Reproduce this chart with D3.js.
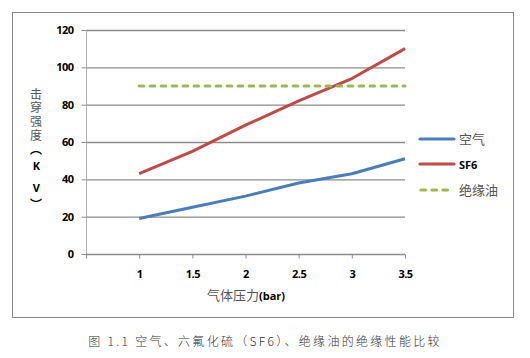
<!DOCTYPE html>
<html><head><meta charset="utf-8">
<script src="https://cdn.jsdelivr.net/npm/d3@7"></script>
<style>body{margin:0;background:#fff}</style>
</head><body><svg id="c" width="530" height="358"></svg>
<script>
const pressures = [1, 1.5, 2, 2.5, 3, 3.5];
const air = [19, 25, 31, 38, 43, 51];
const sf6 = [43, 55, 69, 82, 94, 110];
const oil = [90, 90, 90, 90, 90, 90];
const seriesNames = ["空气", "SF6", "绝缘油"];
const yTicks = [0, 20, 40, 60, 80, 100, 120];
const xTicks = [1, 1.5, 2, 2.5, 3, 3.5];
const colors = ["#4a7ebb", "#be4b48", "#98b954"];

const svg = d3.select("#c");
svg.append("rect").attr("x",12.5).attr("y",12.5).attr("width",501).attr("height",305)
  .attr("fill","#fff").attr("stroke","#888").attr("stroke-width",1);

const x = d3.scaleLinear().domain([0.5, 3.5]).range([86, 405]);
const y = d3.scaleLinear().domain([0, 120]).range([254, 30]);

// gridlines
svg.append("g").selectAll("line").data(yTicks.filter(d=>d>0)).join("line")
  .attr("x1",86).attr("x2",405).attr("y1",d=>y(d)+0.5).attr("y2",d=>y(d)+0.5)
  .attr("stroke","#8c8c8c").attr("stroke-width",1.3);

// y axis
const ya = svg.append("g").attr("transform","translate(86.5,0)")
  .call(d3.axisLeft(y).tickValues(yTicks).tickSize(5).tickPadding(8).tickFormat(d3.format("d")));
ya.select(".domain").attr("stroke","#b0b0b0").attr("d","M0,"+y(120)+"V"+y(0));
ya.selectAll(".tick line").attr("stroke","#8c8c8c");
ya.selectAll("text").attr("font-family","'Open Sans', sans-serif").attr("font-weight","bold")
  .attr("font-size",11).attr("fill","#000").attr("letter-spacing","-0.5");

// x axis
const xa = svg.append("g").attr("transform","translate(0,"+(y(0)+0.5)+")")
  .call(d3.axisBottom(x).tickValues([0.5].concat(xTicks)).tickSize(4).tickPadding(12).tickFormat(d=>d===0.5?"":d3.format("")(d)));
xa.select(".domain").attr("stroke","#8c8c8c").attr("stroke-width",1.3).attr("d","M86,0H405");
xa.selectAll(".tick line").attr("stroke","#8c8c8c");
xa.selectAll("text").attr("font-family","'Open Sans', sans-serif").attr("font-weight","bold")
  .attr("font-size",11).attr("fill","#000").attr("letter-spacing","-0.5");

// lines
const line = d3.line().x((d,i)=>x(pressures[i])).y(d=>y(d));
[air, sf6].forEach((s,i)=>{
  svg.append("path").datum(s).attr("d",line).attr("fill","none")
    .attr("stroke",colors[i]).attr("stroke-width",3).attr("stroke-linejoin","round");
});
svg.append("path").datum(oil).attr("d",line).attr("fill","none")
  .attr("stroke",colors[2]).attr("stroke-width",3.2).attr("stroke-linecap","round")
  .attr("stroke-dasharray","4.5 6.5");

// legend
const lg = svg.append("g");
const ly = [139, 164, 190];
seriesNames.forEach((n,i)=>{
  const l = lg.append("line").attr("x1",420).attr("x2",454).attr("y1",ly[i]).attr("y2",ly[i])
    .attr("stroke",colors[i]).attr("stroke-width",3.2).attr("stroke-linecap","round");
  if(i===2) l.attr("stroke-dasharray","4.5 6.5").attr("x1",421);
  lg.append("text").attr("x",459).attr("y",ly[i]+4.5).text(n)
    .attr("font-family", i===1?"'Open Sans', sans-serif":"'Noto Sans CJK SC'")
    .attr("font-weight", i===1?"bold":"normal")
    .attr("font-size", i===1?11:13).attr("fill", i===1?"#000":"#555");
});

// y title (vertical, single text element)
const yTitle = svg.append("text").attr("x",36).attr("y",88)
  .attr("writing-mode","vertical-rl")
  .style("text-orientation","upright")
  .attr("font-family","'Noto Sans CJK SC'").attr("font-size",12).attr("fill","#555")
  .attr("letter-spacing","1.7");
yTitle.append("tspan").text("击穿强度");
yTitle.append("tspan").attr("font-weight","bold").attr("fill","#000").attr("letter-spacing","0").text("︵");
yTitle.append("tspan").attr("dy",3).attr("font-family","'Open Sans', sans-serif").attr("font-weight","bold").attr("fill","#000").attr("font-size",11).attr("letter-spacing","7").text("KV");
yTitle.append("tspan").attr("dy",-4).attr("font-weight","bold").attr("fill","#000").attr("letter-spacing","0").text("︶");

// x title
const xt = svg.append("text").attr("x",246).attr("y",300).attr("text-anchor","middle");
xt.append("tspan").attr("font-family","'Noto Sans CJK SC'").attr("font-size",13).attr("fill","#555").text("气体压力");
xt.append("tspan").attr("font-family","'Open Sans', sans-serif").attr("font-weight","bold").attr("font-size",11).attr("fill","#000").text("(bar)");

// caption
svg.append("text").attr("x",265).attr("y",346).attr("text-anchor","middle")
  .attr("font-family","'Noto Sans CJK SC'").attr("font-weight","300").attr("font-size",12).attr("fill","#333").attr("letter-spacing","2.3")
  .text("图 1.1 空气、六氟化硫（SF6）、绝缘油的绝缘性能比较");
</script></body></html>
